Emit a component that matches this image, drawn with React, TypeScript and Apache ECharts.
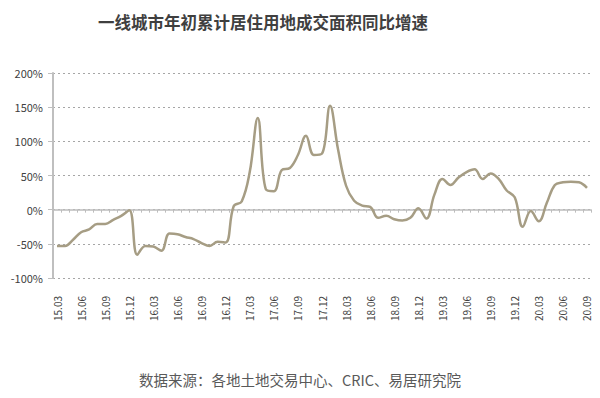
import React, { useEffect, useRef } from "react";
import * as echarts from "echarts";

const TITLE = "一线城市年初累计居住用地成交面积同比增速";
const SOURCE = "数据来源：各地土地交易中心、CRIC、易居研究院";

const years = ["15", "16", "17", "18", "19", "20"];
const months = ["01", "02", "03", "04", "05", "06", "07", "08", "09", "10", "11", "12"];

// monthly categories 15.03 … 20.09
const categories: string[] = [];
years.forEach((y) =>
  months.forEach((m) => {
    const key = y + "." + m;
    if (key >= "15.03" && key <= "20.09") categories.push(key);
  })
);

// year-to-date growth, %
const growth = [
  -53, -53, -44, -33, -29, -21, -21, -15, -9, -1,
  -66, -53, -54, -60, -35, -36, -40, -43, -49, -53,
  -47, -48, 5, 12, 55, 134, 30, 27, 58, 61,
  80, 108, 80, 82, 152, 88, 35, 13, 6, 4,
  -12, -9, -14, -16, -12, 2, -13, 22, 45, 36,
  47, 55, 59, 45, 53, 45, 28, 18, -25, -2,
  -17, 10, 36, 40, 41, 40, 32,
];

const yTicks = { min: -100, max: 200, interval: 50 };

export default function App() {
  const ref = useRef<HTMLDivElement>(null);
  useEffect(() => {
    if (!ref.current) return;
    const chart = echarts.init(ref.current, null, { renderer: "svg" });
    const font = "'Noto Sans CJK SC', 'Noto Sans', sans-serif";
    chart.setOption({
      animation: false,
      backgroundColor: "#ffffff",
      textStyle: { fontFamily: font },
      title: [
        {
          text: TITLE,
          left: 93,
          top: 9,
          textStyle: { fontSize: 16.5, fontWeight: "bold", color: "#3f3f3f", fontFamily: font },
        },
        {
          text: SOURCE,
          left: "center",
          top: 367,
          textStyle: { fontSize: 14.5, fontWeight: "normal", color: "#595959", fontFamily: font },
        },
      ],
      grid: { left: 53, right: 9, top: 73, bottom: 120 },
      xAxis: [
        {
          type: "category",
          data: categories,
          position: "bottom",
          boundaryGap: true,
          axisLine: { show: false, onZero: false },
          axisTick: { show: false },
          axisLabel: {
            interval: 2,
            rotate: 90,
            margin: 18,
            fontSize: 10,
            color: "#404040",
          },
        },
        {
          type: "category",
          data: categories,
          position: "top",
          boundaryGap: true,
          axisLine: { show: true, onZero: true, lineStyle: { color: "#bdbdbd", width: 1.5 } },
          axisTick: { show: true, inside: true, length: 3, interval: 0, lineStyle: { color: "#bdbdbd" } },
          axisLabel: { show: false },
        },
      ],
      yAxis: {
        type: "value",
        min: yTicks.min,
        max: yTicks.max,
        interval: yTicks.interval,
        axisLine: { show: true, lineStyle: { color: "#bfbfbf", width: 2 } },
        axisTick: { show: true, length: 5, lineStyle: { color: "#bfbfbf" } },
        axisLabel: {
          formatter: "{value}%",
          fontSize: 11,
          color: "#404040",
          margin: 10,
        },
        splitLine: {
          show: true,
          lineStyle: { color: "#a6a6a6", type: [2, 3], width: 1 },
        },
      },
      series: [
        {
          type: "line",
          data: growth,
          xAxisIndex: 0,
          smooth: 0.4,
          symbol: "none",
          lineStyle: { color: "#a69d84", width: 2.5 },
        },
      ],
    });
    return () => chart.dispose();
  }, []);
  return (
    <div
      ref={ref}
      style={{ position: "absolute", left: 0, top: 0, width: 600, height: 398 }}
    />
  );
}
